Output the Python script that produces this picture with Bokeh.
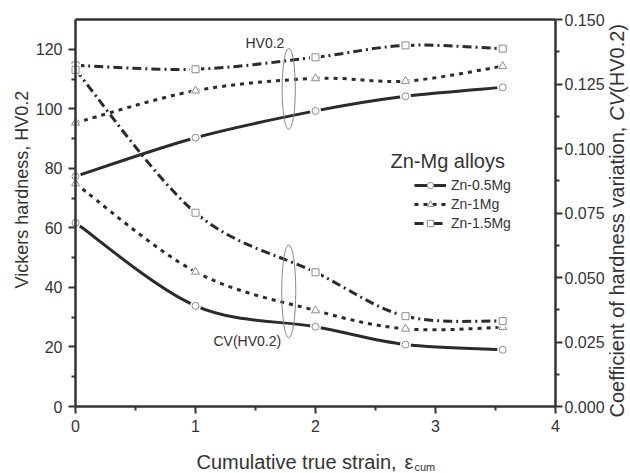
import math

from bokeh.embed import file_html
from bokeh.models import (FixedTicker, Label, Legend, LegendItem, LinearAxis,
                          NumeralTickFormatter, Range1d)
from bokeh.plotting import figure
from bokeh.resources import INLINE

# ---- data -------------------------------------------------------------
strain = [0.0, 1.0, 2.0, 2.75, 3.56]
alloys = ["Zn-0.5Mg", "Zn-1Mg", "Zn-1.5Mg"]

hv_05 = [77.3, 90.3, 99.3, 104.2, 107.2]
hv_1 = [95.3, 106.1, 110.2, 109.3, 114.3]
hv_15 = [114.6, 113.3, 117.3, 121.3, 120.2]

cv_05 = [0.0712, 0.0390, 0.0309, 0.0240, 0.0220]
cv_1 = [0.0864, 0.0522, 0.0372, 0.0301, 0.0307]
cv_15 = [0.1305, 0.0751, 0.0520, 0.0350, 0.0331]

x_ticks = [0, 1, 2, 3, 4]
hv_ticks = [0, 20, 40, 60, 80, 100, 120]
cv_ticks = [0.0, 0.025, 0.050, 0.075, 0.100, 0.125, 0.150]

# ---- layout -----------------------------------------------------------
# The plot frame spans the whole canvas; the axes sit at fixed positions
# inside it so that the axis titles and annotations can live in the margins.
W, H = 630, 473
LEFT, RIGHT, TOP, BOTTOM = 75, 555, 19, 406
X_MAX, HV_MAX, CV_MAX = 4.0, 130.0, 0.150

FONT = "Liberation Sans"
INK = "#333333"
LINE = "#2b2b2b"
MARK = "#8c8c8c"


def dx(px):
    """screen x (px) -> strain units"""
    return (px - LEFT) * X_MAX / (RIGHT - LEFT)


def dy(py):
    """screen y (px) -> hardness units"""
    return (BOTTOM - py) * HV_MAX / (BOTTOM - TOP)


p = figure(width=W, height=H, title=None,
           x_range=Range1d(dx(0), dx(W)), y_range=Range1d(dy(H), dy(0)),
           x_axis_location=None, y_axis_location=None,
           min_border=0, output_backend="svg", toolbar_location=None)
p.extra_y_ranges = {"cv": Range1d(dy(H) * CV_MAX / HV_MAX,
                                  dy(0) * CV_MAX / HV_MAX)}
p.grid.visible = False
p.outline_line_color = None
p.background_fill_color = "white"
p.border_fill_color = "white"


def mids(t):
    return [(a + b) / 2 for a, b in zip(t[:-1], t[1:])]


x_axis = LinearAxis(fixed_location=0, bounds=(0, X_MAX),
                    ticker=FixedTicker(ticks=x_ticks, minor_ticks=mids(x_ticks)))
top_axis = LinearAxis(fixed_location=HV_MAX, bounds=(0, X_MAX),
                      ticker=FixedTicker(ticks=[], minor_ticks=[]))
hv_axis = LinearAxis(fixed_location=0, bounds=(0, HV_MAX),
                     ticker=FixedTicker(ticks=hv_ticks,
                                        minor_ticks=mids(hv_ticks)))
cv_axis = LinearAxis(y_range_name="cv", fixed_location=X_MAX,
                     bounds=(0, CV_MAX),
                     formatter=NumeralTickFormatter(format="0.000"),
                     ticker=FixedTicker(ticks=cv_ticks,
                                        minor_ticks=mids(cv_ticks)))
p.add_layout(x_axis, "below")
p.add_layout(top_axis, "above")
p.add_layout(hv_axis, "left")
p.add_layout(cv_axis, "right")

for ax in [x_axis, top_axis, hv_axis, cv_axis]:
    ax.axis_line_color = INK
    ax.axis_line_width = 2.5
    ax.major_tick_line_color = INK
    ax.major_tick_line_width = 2
    ax.major_tick_out = 7
    ax.major_tick_in = 0
    ax.minor_tick_line_color = INK
    ax.minor_tick_line_width = 2
    ax.minor_tick_out = 4
    ax.minor_tick_in = 0
    ax.major_label_text_font = FONT
    ax.major_label_text_font_size = "16px"
    ax.major_label_text_color = INK
    ax.axis_label = None
x_axis.major_label_standoff = 6
hv_axis.major_label_standoff = 6
cv_axis.major_label_standoff = 2


def smooth_segments(xs, ys):
    """Cubic Bezier pieces (Catmull-Rom tangents) passing through each point."""
    n = len(xs)
    seg = dict(x0=[], y0=[], x1=[], y1=[], cx0=[], cy0=[], cx1=[], cy1=[])
    for i in range(n - 1):
        a, b = max(i - 1, 0), min(i + 2, n - 1)
        seg["x0"].append(xs[i]); seg["y0"].append(ys[i])
        seg["x1"].append(xs[i + 1]); seg["y1"].append(ys[i + 1])
        seg["cx0"].append(xs[i] + (xs[i + 1] - xs[a]) / 6)
        seg["cy0"].append(ys[i] + (ys[i + 1] - ys[a]) / 6)
        seg["cx1"].append(xs[i + 1] - (xs[b] - xs[i]) / 6)
        seg["cy1"].append(ys[i + 1] - (ys[b] - ys[i]) / 6)
    return seg


# ---- curves -----------------------------------------------------------
styles = {
    "Zn-0.5Mg": dict(dash="solid", marker="circle", size=7),
    "Zn-1Mg": dict(dash="4 5", marker="triangle", size=8),
    "Zn-1.5Mg": dict(dash="9 4 2 4", marker="square", size=7),
}
hv_series = {"Zn-0.5Mg": hv_05, "Zn-1Mg": hv_1, "Zn-1.5Mg": hv_15}
cv_series = {"Zn-0.5Mg": cv_05, "Zn-1Mg": cv_1, "Zn-1.5Mg": cv_15}

legend_items = []
for name in alloys:
    st = styles[name]
    drawn = []
    for ys, rng in [(hv_series[name], "default"), (cv_series[name], "cv")]:
        curve = p.bezier(source=smooth_segments(strain, ys), y_range_name=rng,
                         x0="x0", y0="y0", x1="x1", y1="y1",
                         cx0="cx0", cy0="cy0", cx1="cx1", cy1="cy1",
                         line_color=LINE, line_width=3, line_dash=st["dash"])
        halo = p.scatter(x=strain, y=ys, y_range_name=rng,
                         marker=st["marker"], size=st["size"] + 4,
                         fill_color="white", line_color=None)
        mark = p.scatter(x=strain, y=ys, y_range_name=rng,
                         marker=st["marker"], size=st["size"],
                         fill_color="white", line_color=MARK, line_width=1)
        if not drawn:
            drawn = [curve, halo, mark]
    legend_items.append(LegendItem(label=name, renderers=drawn))

legend = Legend(items=legend_items, location=(414, H - 231),
                label_text_font=FONT, label_text_font_size="14px",
                label_text_color=INK, glyph_width=32, glyph_height=16,
                label_height=16, spacing=3, padding=0, margin=0,
                label_standoff=5, border_line_alpha=0,
                background_fill_alpha=0)
p.add_layout(legend)

# group ellipses around the HV and CV bundles
p.ellipse(x=[1.777, 1.777], y=[106.7, 38.7], width=[0.11, 0.117],
          height=[27.3, 31.3], fill_color=None, line_color="#8a8a8a",
          line_width=1)


def label(text, px, py, size, align="left", baseline="middle", angle=0.0,
          style="normal"):
    p.add_layout(Label(x=dx(px), y=dy(py), text=text, angle=angle,
                       text_font=FONT, text_font_size=f"{size}px",
                       text_font_style=style, text_color=INK,
                       text_align=align, text_baseline=baseline))


label("HV0.2", 245, 42, 14)
label("CV(HV0.2)", 213, 340, 14)
label("Zn-Mg alloys", 390, 160, 20)

# x-axis title with subscript
label("Cumulative true strain,", 196, 461, 20, baseline="alphabetic")
label("\u03b5", 404, 461, 20, baseline="alphabetic")
label("cum", 414, 466, 11, baseline="alphabetic")

# left axis title
label("Vickers hardness, HV0.2", 21, 189, 18, align="center",
      angle=math.pi / 2)

# right axis title (plain, italic, plain pieces)
rs = 20
r0 = 417
rx = 616
label("Coefficient of hardness variation, ", rx, r0, rs, angle=math.pi / 2)
label("CV", rx, r0 - 14.84 * rs, rs, angle=math.pi / 2, style="italic")
label("(HV0.2)", rx, r0 - (14.84 + 1.389) * rs, rs, angle=math.pi / 2)

open("out.html", "w").write(file_html(p, INLINE))
